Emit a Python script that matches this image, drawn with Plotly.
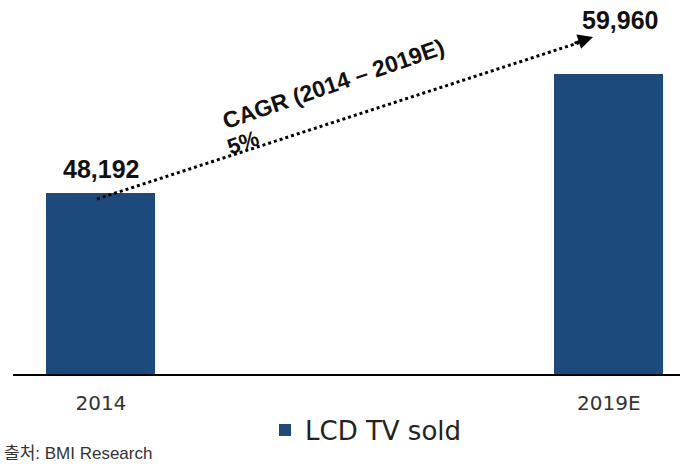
import plotly.graph_objects as go

categories = ["2014", "2019E"]
values = [48192, 59960]
series_name = "LCD TV sold"
cagr_label = "CAGR (2014 – 2019E)"
cagr_value = "5%"
source = "출처: BMI Research"

BAR = "#1D4A7D"
W, H = 680, 464
ml, mr, mt, mb = 13, 0, 10, 90
pw, ph = W - ml - mr, H - mt - mb

def px(x):
    return (x - ml) / pw

def py(y):
    return (H - mb - y) / ph

fig = go.Figure()
fig.add_trace(go.Bar(
    x=categories, y=values, name=series_name,
    marker=dict(color=BAR, line=dict(width=0)),
    width=0.215, showlegend=True, hoverinfo="skip",
))

# value labels (x given as category index)
label_shift = [(0, 24), (11, 54)]
for i, (v, (sx, sy)) in enumerate(zip(values, label_shift)):
    fig.add_annotation(x=i, y=v, text=f"<b>{v:,}</b>", showarrow=False,
                       xshift=sx, yshift=sy, xanchor="center", yanchor="middle",
                       font=dict(family="Liberation Sans, Arial", size=25, color="#111"))

# dotted CAGR arrow
x0, y0, x1, y1 = 97, 199, 584, 41
fig.add_shape(type="line", xref="paper", yref="paper",
              x0=px(x0), y0=py(y0), x1=px(x1), y1=py(y1),
              line=dict(color="black", width=3, dash="dot"))
fig.add_annotation(xref="paper", yref="paper", x=px(593), y=py(37),
                   ax=-20, ay=6.5, showarrow=True, arrowhead=2, arrowsize=1.2,
                   arrowwidth=2.5, arrowcolor="black", text="")
fig.add_annotation(xref="paper", yref="paper", x=px(333), y=py(84), text=f"<b>{cagr_label}</b>",
                   showarrow=False, textangle=-19, xanchor="center", yanchor="middle",
                   font=dict(family="Liberation Sans, Arial", size=23, color="#111"))
fig.add_annotation(xref="paper", yref="paper", x=px(243), y=py(142), text=f"<b>{cagr_value}</b>",
                   showarrow=False, textangle=-19, xanchor="center", yanchor="middle",
                   font=dict(family="Liberation Sans, Arial", size=22, color="#111"))

# source
fig.add_annotation(xref="paper", yref="paper", x=px(3), y=py(453), xanchor="left", yanchor="middle",
                   text=source, showarrow=False, borderpad=0,
                   font=dict(family="Liberation Sans, Noto Sans CJK KR", size=17, color="#333"))

fig.update_layout(
    width=W, height=H,
    margin=dict(l=ml, r=mr, t=mt, b=mb),
    plot_bgcolor="white", paper_bgcolor="white",
    bargap=0,
    legend=dict(orientation="h", x=px(265), y=py(430), xanchor="left", yanchor="middle",
                font=dict(family="DejaVu Sans", size=26, color="#222"),
                itemwidth=30, bgcolor="rgba(0,0,0,0)"),
    xaxis=dict(type="category", range=[-0.173, 1.14], showgrid=False,
               showline=True, linecolor="black", linewidth=2,
               ticks="outside", ticklen=10, tickcolor="rgba(0,0,0,0)",
               tickfont=dict(family="DejaVu Sans", size=20, color="#333")),
    yaxis=dict(range=[30300, 66300], visible=False, showgrid=False, zeroline=False),
)

fig.write_html("out.html", config={"displayModeBar": False},
               post_script="document.body.style.margin='0';")
